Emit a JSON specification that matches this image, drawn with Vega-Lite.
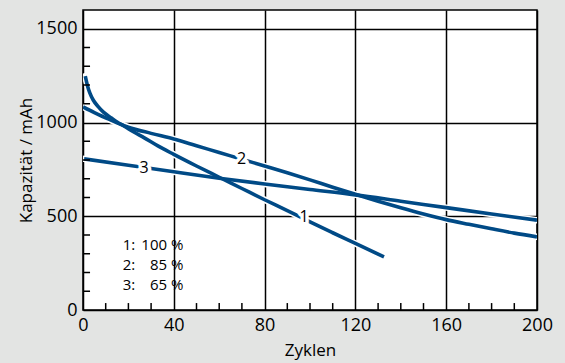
{
  "$schema": "https://vega.github.io/schema/vega-lite/v6.json",
  "autosize": "none",
  "width": 454,
  "height": 300,
  "padding": {"left": 83, "top": 10, "right": 28, "bottom": 53},
  "background": "#e3e4e3",
  "config": {
    "view": {"stroke": "black", "strokeWidth": 1.5, "fill": "white"},
    "font": "Open Sans"
  },
  "datasets": {
    "curves": [
      {"s": "1", "x": 1, "y": 1247}, {"s": "1", "x": 2, "y": 1195}, {"s": "1", "x": 3, "y": 1158},
      {"s": "1", "x": 4.5, "y": 1120}, {"s": "1", "x": 6.6, "y": 1086}, {"s": "1", "x": 9, "y": 1055},
      {"s": "1", "x": 12.5, "y": 1024}, {"s": "1", "x": 15, "y": 1003}, {"s": "1", "x": 18.4, "y": 979},
      {"s": "1", "x": 22, "y": 952}, {"s": "1", "x": 27, "y": 918}, {"s": "1", "x": 33, "y": 875},
      {"s": "1", "x": 40, "y": 830}, {"s": "1", "x": 50, "y": 768}, {"s": "1", "x": 60, "y": 708},
      {"s": "1", "x": 70, "y": 648}, {"s": "1", "x": 80, "y": 588}, {"s": "1", "x": 90, "y": 530},
      {"s": "1", "x": 100, "y": 470}, {"s": "1", "x": 110, "y": 412}, {"s": "1", "x": 120, "y": 355},
      {"s": "1", "x": 132.6, "y": 283},
      {"s": "2", "x": 0, "y": 1083}, {"s": "2", "x": 5, "y": 1053}, {"s": "2", "x": 10, "y": 1025},
      {"s": "2", "x": 15, "y": 998}, {"s": "2", "x": 20, "y": 975}, {"s": "2", "x": 30, "y": 942},
      {"s": "2", "x": 40, "y": 912}, {"s": "2", "x": 50, "y": 876}, {"s": "2", "x": 60, "y": 840},
      {"s": "2", "x": 70, "y": 804}, {"s": "2", "x": 80, "y": 768}, {"s": "2", "x": 90, "y": 732},
      {"s": "2", "x": 100, "y": 694}, {"s": "2", "x": 110, "y": 655}, {"s": "2", "x": 120, "y": 617},
      {"s": "2", "x": 130, "y": 580}, {"s": "2", "x": 140, "y": 545}, {"s": "2", "x": 150, "y": 512},
      {"s": "2", "x": 160, "y": 482}, {"s": "2", "x": 170, "y": 457}, {"s": "2", "x": 180, "y": 433},
      {"s": "2", "x": 190, "y": 410}, {"s": "2", "x": 200, "y": 390},
      {"s": "3", "x": 0.5, "y": 806}, {"s": "3", "x": 20, "y": 772}, {"s": "3", "x": 40, "y": 737},
      {"s": "3", "x": 60, "y": 703}, {"s": "3", "x": 80, "y": 672}, {"s": "3", "x": 100, "y": 643},
      {"s": "3", "x": 120, "y": 614}, {"s": "3", "x": 140, "y": 580}, {"s": "3", "x": 160, "y": 546},
      {"s": "3", "x": 180, "y": 512}, {"s": "3", "x": 200, "y": 479}
    ],
    "labels": [
      {"t": "1", "x": 97.4, "y": 497},
      {"t": "2", "x": 69.9, "y": 804},
      {"t": "3", "x": 26.9, "y": 756}
    ],
    "legendA": [
      {"t": "1:", "x": 17.5, "y": 345},
      {"t": "2:", "x": 17.5, "y": 238},
      {"t": "3:", "x": 17.5, "y": 131}
    ],
    "legendB": [
      {"t": "100 %", "x": 44.2, "y": 345},
      {"t": "85 %", "x": 44.2, "y": 238},
      {"t": "65 %", "x": 44.2, "y": 131}
    ],
    "xticks": [
      {"x": 10, "y": 0, "y2": 37}, {"x": 20, "y": 0, "y2": 37}, {"x": 30, "y": 0, "y2": 37},
      {"x": 50, "y": 0, "y2": 37}, {"x": 60, "y": 0, "y2": 37}, {"x": 70, "y": 0, "y2": 37},
      {"x": 90, "y": 0, "y2": 37}, {"x": 100, "y": 0, "y2": 37}, {"x": 110, "y": 0, "y2": 37},
      {"x": 130, "y": 0, "y2": 37}, {"x": 140, "y": 0, "y2": 37}, {"x": 150, "y": 0, "y2": 37},
      {"x": 170, "y": 0, "y2": 37}, {"x": 180, "y": 0, "y2": 37}, {"x": 190, "y": 0, "y2": 37}
    ],
    "yticks": [
      {"y": 100, "x": 0, "x2": 3.1}, {"y": 200, "x": 0, "x2": 3.1}, {"y": 300, "x": 0, "x2": 3.1},
      {"y": 400, "x": 0, "x2": 3.1}, {"y": 600, "x": 0, "x2": 3.1}, {"y": 700, "x": 0, "x2": 3.1},
      {"y": 800, "x": 0, "x2": 3.1}, {"y": 900, "x": 0, "x2": 3.1}, {"y": 1100, "x": 0, "x2": 3.1},
      {"y": 1200, "x": 0, "x2": 3.1}, {"y": 1300, "x": 0, "x2": 3.1}, {"y": 1400, "x": 0, "x2": 3.1}
    ]
  },
  "encoding": {
    "x": {
      "field": "x", "type": "quantitative",
      "scale": {"domain": [0, 200], "nice": false, "zero": false},
      "axis": {
        "values": [0, 40, 80, 120, 160, 200],
        "ticks": false,
        "domain": false,
        "grid": true, "gridColor": "black", "gridWidth": 1.5,
        "labelFont": "Open Sans", "labelFontSize": 18, "labelColor": "black", "labelPadding": 6,
        "labelFlush": false, "labelOverlap": false,
        "title": "Zyklen", "titleFont": "Open Sans", "titleFontSize": 17, "titleFontWeight": "normal",
        "titleColor": "black", "titlePadding": 8
      }
    },
    "y": {
      "field": "y", "type": "quantitative",
      "scale": {"domain": [0, 1600], "nice": false, "zero": false},
      "axis": {
        "values": [0, 500, 1000, 1500],
        "format": "d",
        "ticks": false,
        "domain": false,
        "grid": true, "gridColor": "black", "gridWidth": 1.5,
        "labelFont": "Open Sans", "labelFontSize": 18, "labelColor": "black", "labelPadding": 6,
        "labelFlush": false, "labelOverlap": false,
        "title": "Kapazität / mAh", "titleFont": "Open Sans", "titleFontSize": 17, "titleFontWeight": "normal",
        "titleColor": "black", "titlePadding": 0
      }
    }
  },
  "layer": [
    {
      "data": {"name": "curves"},
      "mark": {"type": "line", "color": "white", "strokeWidth": 6.5, "strokeCap": "round", "interpolate": "monotone", "clip": true},
      "encoding": {"detail": {"field": "s"}, "order": {"field": "x"}}
    },
    {
      "data": {"name": "curves"},
      "mark": {"type": "line", "color": "#004a86", "strokeWidth": 3.6, "strokeCap": "butt", "interpolate": "monotone", "clip": true},
      "encoding": {"detail": {"field": "s"}, "order": {"field": "x"}}
    },
    {
      "data": {"name": "labels"},
      "mark": {"type": "text", "fontSize": 16, "font": "Open Sans", "color": "white", "stroke": "white", "strokeWidth": 7, "strokeJoin": "round"},
      "encoding": {"text": {"field": "t"}}
    },
    {
      "data": {"name": "labels"},
      "mark": {"type": "text", "fontSize": 16, "font": "Open Sans", "color": "black"},
      "encoding": {"text": {"field": "t"}}
    },
    {
      "data": {"name": "legendA"},
      "mark": {"type": "text", "fontSize": 15, "font": "Open Sans", "color": "black", "align": "left"},
      "encoding": {"text": {"field": "t"}}
    },
    {
      "data": {"name": "legendB"},
      "mark": {"type": "text", "fontSize": 15, "font": "Open Sans", "color": "black", "align": "right"},
      "encoding": {"text": {"field": "t"}}
    },
    {
      "data": {"name": "xticks"},
      "mark": {"type": "rule", "color": "black", "strokeWidth": 1.5},
      "encoding": {"y2": {"field": "y2"}}
    },
    {
      "data": {"name": "yticks"},
      "mark": {"type": "rule", "color": "black", "strokeWidth": 1.5},
      "encoding": {"x2": {"field": "x2"}}
    }
  ]
}
